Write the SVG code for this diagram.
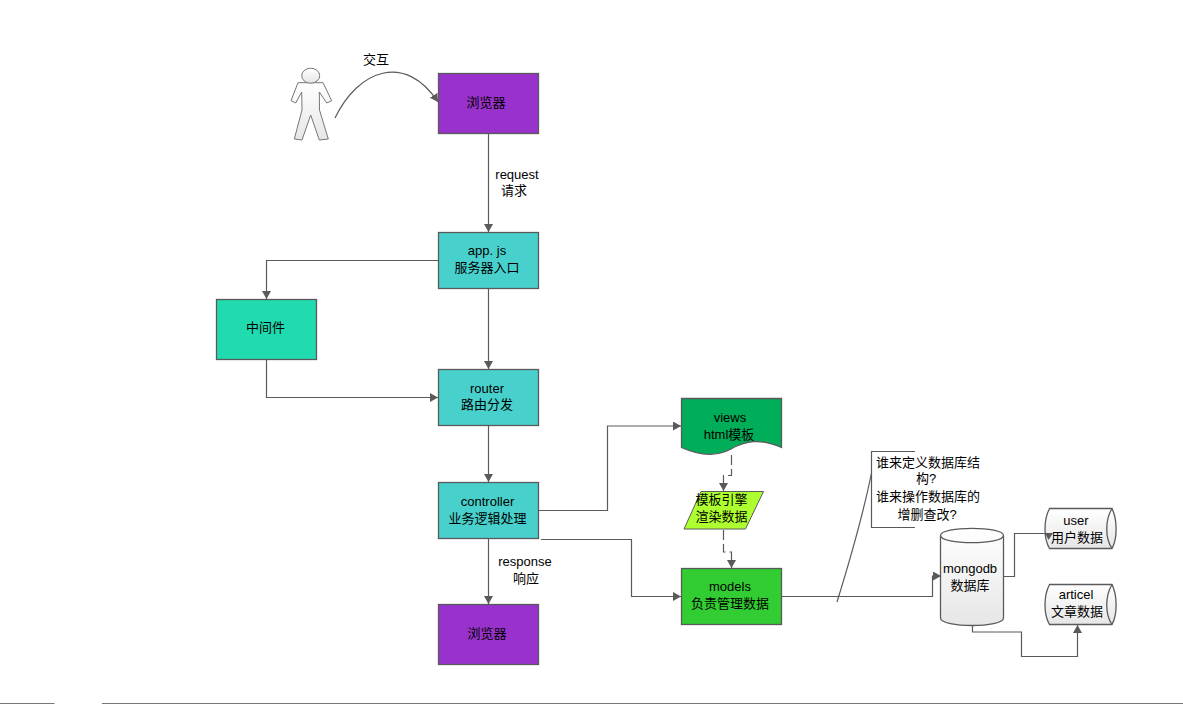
<svg xmlns="http://www.w3.org/2000/svg" width="1183" height="705" viewBox="0 0 1183 705">
<style>
text{font-family:"Liberation Sans","Noto Sans CJK SC",sans-serif;font-size:13px;text-anchor:middle;fill:#000}
.n{stroke:#5a5a5a;stroke-width:1.3}
.c{fill:none;stroke:#5a5a5a;stroke-width:1.2;marker-end:url(#a)}
.p{fill:none;stroke:#5a5a5a;stroke-width:1.2}
.d{stroke-dasharray:10 4}
</style>
<defs>
<marker id="a" markerUnits="userSpaceOnUse" markerWidth="10" markerHeight="10" refX="8" refY="4.500" orient="auto"><path d="M0 0L8 4.500L0 9Z" fill="#5a5a5a"/></marker>
<linearGradient id="g" x1="0" y1="0" x2="0" y2="1"><stop offset="0" stop-color="#fff"/><stop offset="1" stop-color="#e6e6e6"/></linearGradient>
</defs>
<rect width="1183" height="705" fill="#fff"/>
<g id="connectors">
<path class="c" d="M335 118C358 70 405 52 438 102"/>
<path class="c" d="M488.500 133V232"/>
<path class="c" d="M438 260.500H266.500V299"/>
<path class="c" d="M488.500 288V369"/>
<path class="c" d="M266.500 359V397.500H438"/>
<path class="c" d="M488.500 425V482"/>
<path class="c" d="M488.500 538V604"/>
<path class="c" d="M539 510.500H607.500V426H681"/>
<path class="c" d="M541 539.500H631.500V596.500H681"/>
<path class="c d" d="M731.500 455V475.500H723.500V491"/>
<path class="c d" d="M723.500 530V552H731.500V568"/>
<path class="c" d="M781 596.500H932.500V576H941"/>
<path class="p" d="M1004 576.500H1014.500V533.500H1046"/>
<path class="c" d="M972.500 625V632H1021.500V656.500H1077.500V625"/>
</g>
<g id="person">
<path d="M298 82.700L323 82.700L331.700 100.700L326.700 103L319.300 92L319.500 110L328.300 139L319.300 140L310.700 115L302 140L294.300 139L302 110L301.700 92L295.700 103L291 100.700Z" fill="url(#g)" stroke="#777" stroke-width="1"/>
<ellipse cx="310.700" cy="75.700" rx="9" ry="7.500" fill="url(#g)" stroke="#777" stroke-width="1"/>
</g>
<g id="label-interact"><text x="376" y="64">交互</text></g>
<g id="browser-top"><rect class="n" x="438.500" y="73.500" width="100" height="60" fill="#9932cc"/><text x="486" y="107">浏览器</text></g>
<g id="label-request"><text x="517" y="179">request</text><text x="514" y="195">请求</text></g>
<g id="app"><rect class="n" x="438.500" y="232.500" width="100" height="56" fill="#48d1cc"/><text x="487" y="255">app. js</text><text x="487" y="272">服务器入口</text></g>
<g id="middleware"><rect class="n" x="216.500" y="299.500" width="100" height="60" fill="#20dbb0"/><text x="265.500" y="332">中间件</text></g>
<g id="router"><rect class="n" x="438.500" y="369.500" width="100" height="56" fill="#48d1cc"/><text x="487" y="393">router</text><text x="487" y="409">路由分发</text></g>
<g id="controller"><rect class="n" x="438.500" y="482.500" width="100" height="56" fill="#48d1cc"/><text x="487.500" y="506">controller</text><text x="487.500" y="523">业务逻辑处理</text></g>
<g id="label-response"><text x="525" y="566">response</text><text x="526" y="583">响应</text></g>
<g id="browser-bottom"><rect class="n" x="438.500" y="604.500" width="100" height="60" fill="#9932cc"/><text x="487" y="638">浏览器</text></g>
<g id="views"><path class="n" d="M681.500 398.500H781.500V447.500C760 438 745 441 731 449C716 457 698 455 681.500 447.500Z" fill="#00ad58"/><text x="730" y="422">views</text><text x="729" y="439">html模板</text></g>
<g id="engine"><path d="M701 491.500H763.500L745.500 529H684Z" fill="#adff2f" stroke="#5a5a5a" stroke-width="1"/><text x="721.500" y="504">模板引擎</text><text x="721.500" y="521">渲染数据</text></g>
<g id="models"><rect class="n" x="681.500" y="568.500" width="100" height="56" fill="#32cd32"/><text x="730" y="591">models</text><text x="730" y="608">负责管理数据</text></g>
<g id="note"><path class="p" d="M915 451.500H871.500V527.500H915"/><path class="p" d="M871.500 473C862 520 850 560 837 602"/><text x="928" y="466.500">谁来定义数据库结</text><text x="926" y="483">构?</text><text x="928" y="501">谁来操作数据库的</text><text x="927" y="518.500">增删查改?</text></g>
<g id="mongodb"><path class="n" d="M940.500 535.500C940.500 526 1003.500 526 1003.500 535.500V618C1003.500 628 940.500 628 940.500 618Z" fill="url(#g)"/><path class="n" d="M940.500 535.500C940.500 545 1003.500 545 1003.500 535.500" fill="none"/><text x="970" y="573">mongodb</text><text x="970" y="589.500">数据库</text></g>
<g id="user"><path class="n" d="M1049.500 508.500H1112C1117.500 520 1117.500 538 1112 548.500H1049.500C1043.500 538 1043.500 520 1049.500 508.500Z" fill="url(#g)"/><path class="n" d="M1112 508.500C1105 520 1105 538 1112 548.500" fill="none"/><path d="M1045 533H1053L1048.500 540Z" fill="#5a5a5a"/><text x="1076" y="525">user</text><text x="1077" y="541.500">用户数据</text></g>
<g id="article"><path class="n" d="M1049.500 584.500H1112C1117.500 596 1117.500 614 1112 624.500H1049.500C1043.500 614 1043.500 596 1049.500 584.500Z" fill="url(#g)"/><path class="n" d="M1112 584.500C1105 596 1105 614 1112 624.500" fill="none"/><text x="1076" y="599">articel</text><text x="1077" y="615.500">文章数据</text></g>
<path d="M0 703.500H54.500M102 703.500H1183" stroke="#777" stroke-width="1.200" fill="none"/>
</svg>
